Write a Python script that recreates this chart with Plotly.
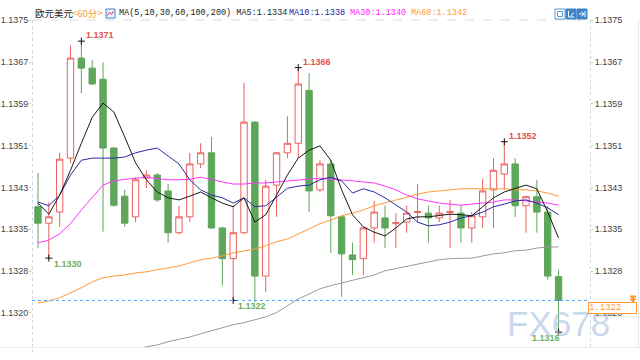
import plotly.graph_objects as go

# ---------------- data ----------------
idx = list(range(49))
opens = [1.13397, 1.13366, 1.13387, 1.13489, 1.13678, 1.13659, 1.13638, 1.13508, 1.13417, 1.13378,
         1.13451, 1.13457, 1.13427, 1.13348, 1.13378, 1.13478, 1.13499, 1.13357, 1.13299, 1.13348,
         1.13557, 1.13266, 1.13438, 1.13499, 1.13517, 1.13617, 1.13429, 1.13478, 1.13378, 1.13306,
         1.13299, 1.13357, 1.13376, 1.13365, 1.13368, 1.13386, 1.13385, 1.13376, 1.13386, 1.13385,
         1.13357, 1.13378, 1.13429, 1.13459, 1.13478, 1.13399, 1.13416, 1.13387, 1.13265]
highs = [1.13461, 1.13406, 1.13499, 1.13702, 1.13710, 1.13674, 1.13670, 1.13510, 1.13429, 1.13453,
         1.13466, 1.13461, 1.13440, 1.13399, 1.13499, 1.13517, 1.13529, 1.13359, 1.13400, 1.13631,
         1.13559, 1.13448, 1.13501, 1.13568, 1.13660, 1.13650, 1.13485, 1.13485, 1.13380, 1.13329,
         1.13359, 1.13408, 1.13399, 1.13385, 1.13399, 1.13440, 1.13399, 1.13399, 1.13410, 1.13399,
         1.13387, 1.13450, 1.13489, 1.13520, 1.13489, 1.13418, 1.13448, 1.13399, 1.13278]
lows = [1.13319, 1.13300, 1.13359, 1.13480, 1.13612, 1.13627, 1.13350, 1.13397, 1.13359, 1.13368,
        1.13432, 1.13406, 1.13329, 1.13345, 1.13368, 1.13470, 1.13355, 1.13248, 1.13220, 1.13345,
        1.13217, 1.13236, 1.13378, 1.13489, 1.13489, 1.13387, 1.13425, 1.13310, 1.13227, 1.13268,
        1.13268, 1.13329, 1.13319, 1.13319, 1.13348, 1.13368, 1.13329, 1.13368, 1.13319, 1.13329,
        1.13329, 1.13357, 1.13357, 1.13429, 1.13378, 1.13348, 1.13348, 1.13259, 1.13160]
closes = [1.13366, 1.13378, 1.13487, 1.13678, 1.13659, 1.13629, 1.13508, 1.13400, 1.13366, 1.13448,
          1.13457, 1.13410, 1.13348, 1.13378, 1.13478, 1.13499, 1.13357, 1.13299, 1.13348, 1.13557,
          1.13266, 1.13436, 1.13499, 1.13517, 1.13629, 1.13427, 1.13478, 1.13380, 1.13308, 1.13297,
          1.13357, 1.13387, 1.13357, 1.13367, 1.13385, 1.13388, 1.13376, 1.13385, 1.13388, 1.13357,
          1.13380, 1.13427, 1.13466, 1.13478, 1.13399, 1.13416, 1.13387, 1.13266, 1.13220]

ma5 = [1.13404, 1.13383, 1.13419, 1.13466, 1.13517, 1.13566, 1.13593, 1.13576, 1.13529, 1.13480,
       1.13448, 1.13425, 1.13414, 1.13410, 1.13417, 1.13425, 1.13414, 1.13404, 1.13397, 1.13414,
       1.13368, 1.13382, 1.13419, 1.13457, 1.13489, 1.13504, 1.13512, 1.13485, 1.13429, 1.13382,
       1.13359, 1.13349, 1.13342, 1.13357, 1.13374, 1.13378, 1.13378, 1.13380, 1.13383, 1.13382,
       1.13380, 1.13397, 1.13414, 1.13425, 1.13431, 1.13438, 1.13431, 1.13387, 1.13338]
ma10 = [1.13406, 1.13399, 1.13419, 1.13457, 1.13485, 1.13489, 1.13489, 1.13489, 1.13491, 1.13499,
        1.13504, 1.13508, 1.13493, 1.13478, 1.13448, 1.13429, 1.13419, 1.13414, 1.13404, 1.13414,
        1.13397, 1.13399, 1.13415, 1.13432, 1.13436, 1.13438, 1.13448, 1.13453, 1.13446, 1.13423,
        1.13431, 1.13425, 1.13414, 1.13400, 1.13387, 1.13368, 1.13361, 1.13363, 1.13368, 1.13376,
        1.13380, 1.13387, 1.13397, 1.13402, 1.13408, 1.13410, 1.13404, 1.13395, 1.13382]
ma30 = [1.13329, 1.13334, 1.13346, 1.13365, 1.13391, 1.13415, 1.13438, 1.13446, 1.13449, 1.13451,
        1.13453, 1.13451, 1.13448, 1.13448, 1.13449, 1.13453, 1.13448, 1.13444, 1.13440, 1.13440,
        1.13442, 1.13442, 1.13444, 1.13446, 1.13448, 1.13449, 1.13451, 1.13449, 1.13448, 1.13446,
        1.13444, 1.13442, 1.13436, 1.13429, 1.13419, 1.13412, 1.13408, 1.13404, 1.13402, 1.13400,
        1.13402, 1.13404, 1.13406, 1.13410, 1.13410, 1.13408, 1.13406, 1.13404, 1.13400]
ma60 = [1.13215, 1.13219, 1.13225, 1.13234, 1.13244, 1.13255, 1.13263, 1.13266, 1.13268, 1.13272,
        1.13274, 1.13278, 1.13282, 1.13285, 1.13291, 1.13297, 1.13300, 1.13304, 1.13310, 1.13314,
        1.13317, 1.13323, 1.13331, 1.13336, 1.13346, 1.13355, 1.13365, 1.13372, 1.13380, 1.13385,
        1.13391, 1.13399, 1.13404, 1.13410, 1.13415, 1.13421, 1.13425, 1.13427, 1.13429, 1.13431,
        1.13431, 1.13431, 1.13431, 1.13431, 1.13429, 1.13429, 1.13427, 1.13423, 1.13417]
ma100 = [None, None, None, None, None, None, None, None, 1.13125, 1.13129,
         1.13132, 1.13136, 1.13142, 1.13146, 1.13151, 1.13157, 1.13163, 1.13168, 1.13174, 1.13178,
         1.13183, 1.13189, 1.13197, 1.13210, 1.13223, 1.13232, 1.13242, 1.13248, 1.13253, 1.13257,
         1.13263, 1.13268, 1.13276, 1.13280, 1.13285, 1.13289, 1.13293, 1.13297, 1.13299, 1.13300,
         1.13300, 1.13304, 1.13308, 1.13310, 1.13314, 1.13315, 1.13319, 1.13321, 1.13321]

ytick_vals = [1.137495, 1.136705, 1.135915, 1.135125, 1.134335, 1.133545, 1.132755, 1.131965]
ytick_text = ["1.1375", "1.1367", "1.1359", "1.1351", "1.1343", "1.1335", "1.1328", "1.1320"]

high_marks = [4, 24, 43]
low_marks = [1, 18, 48]
last_price = 1.1322

title_name = "欧元美元"
period = "<60分>"
ma_title = "MA(5,10,30,60,100,200) MA5:1.1334"
ma_legend = ["MA10:1.1338", "MA30:1.1340", "MA60:1.1342"]
watermark = "FX678"

# ---------------- layout helpers ----------------
W, H = 640, 360
ML, MR, MT, MB = 32, 50, 20, 13
PW, PH = W - ML - MR, H - MT - MB


def px(x):
    return (x - ML) / PW


def py(y):
    return (H - MB - y) / PH


RED = "#e8605c"
GREEN = "#5ea65a"

fig = go.Figure()

fig.add_trace(go.Candlestick(
    x=idx, open=opens, high=highs, low=lows, close=closes,
    increasing=dict(line=dict(color=RED, width=1), fillcolor="white"),
    decreasing=dict(line=dict(color=GREEN, width=1), fillcolor=GREEN),
    whiskerwidth=0, hoverinfo="skip", showlegend=False,
))

for vals, col in [(ma100, "#9a9a9a"), (ma60, "#ff9933"), (ma30, "#ff33ff"),
                  (ma10, "#2b2ba0"), (ma5, "#1a1a1a")]:
    fig.add_trace(go.Scatter(x=idx, y=vals, mode="lines",
                             line=dict(color=col, width=1),
                             hoverinfo="skip", showlegend=False, connectgaps=False))

# extreme markers
mk_x = [i for i in high_marks] + [i for i in low_marks]
mk_y = [highs[i] for i in high_marks] + [lows[i] for i in low_marks]
fig.add_trace(go.Scatter(x=mk_x, y=mk_y, mode="markers",
                         marker=dict(symbol="cross-thin", size=5,
                                     line=dict(color="#111", width=1)),
                         hoverinfo="skip", showlegend=False))

# invisible trace for right axis
fig.add_trace(go.Scatter(x=[0], y=[closes[0]], yaxis="y2", mode="markers",
                         marker=dict(opacity=0), hoverinfo="skip", showlegend=False))

annotations = []
for i in high_marks:
    annotations.append(dict(x=i, y=highs[i], xref="x", yref="y", text=f"<b>{highs[i]:.4f}</b>",
                            showarrow=False, xanchor="left", yanchor="middle",
                            xshift=3, yshift=6,
                            font=dict(family="Liberation Sans, Arial", size=9, color="#e2514f")))
for i in low_marks:
    right = i == idx[-1]
    annotations.append(dict(x=i, y=lows[i], xref="x", yref="y", text=f"<b>{lows[i]:.4f}</b>",
                            showarrow=False, xanchor="right" if right else "left",
                            yanchor="middle", xshift=3, yshift=-6,
                            font=dict(family="Liberation Sans, Arial", size=9, color="#6fae5c")))

# header texts
annotations.append(dict(x=px(33), y=py(13), xref="paper", yref="paper", text=title_name,
                        showarrow=False, xanchor="left", yanchor="middle",
                        font=dict(family="Noto Sans CJK SC", size=9.5, color="#222")))
annotations.append(dict(x=px(70), y=py(13), xref="paper", yref="paper",
                        text=period.replace("<", "&lt;").replace(">", "&gt;"),
                        showarrow=False, xanchor="left", yanchor="middle",
                        font=dict(family="Noto Sans CJK SC", size=9.5, color="#f0a030")))
annotations.append(dict(x=px(117), y=py(13), xref="paper", yref="paper", text=ma_title,
                        showarrow=False, xanchor="left", yanchor="middle",
                        font=dict(family="Liberation Mono", size=8.5, color="#222")))
for txt, xl, col in zip(ma_legend, [287, 348, 409], ["#2020a8", "#ff22ff", "#ff9933"]):
    annotations.append(dict(x=px(xl), y=py(13), xref="paper", yref="paper", text=txt,
                            showarrow=False, xanchor="left", yanchor="middle",
                            font=dict(family="Liberation Mono", size=8.5, color=col)))

# watermark
annotations.append(dict(x=px(558), y=py(323), xref="paper", yref="paper", text=watermark,
                        showarrow=False, xanchor="center", yanchor="middle",
                        font=dict(family="Liberation Sans, Arial", size=35, color="rgba(170,195,225,0.65)")))

# last price label
annotations.append(dict(x=px(588), y=py(308), xref="paper", yref="paper", text=f"{last_price:.4f}",
                        showarrow=False, xanchor="left", yanchor="middle", align="left",
                        bgcolor="white", bordercolor="#ff9933", borderwidth=1, borderpad=0,
                        width=47,
                        font=dict(family="Liberation Mono", size=9, color="#ff9933")))

shapes = [
    # top dashed border
    dict(type="line", xref="paper", yref="paper", x0=px(33), x1=px(590), y0=py(20), y1=py(20),
         line=dict(color="#d8d8d8", width=1, dash="dash")),
    # left / right dotted axis lines
    dict(type="line", xref="paper", yref="paper", x0=px(32.5), x1=px(32.5), y0=py(20), y1=py(352),
         line=dict(color="#c9d6e6", width=1, dash="dot")),
    dict(type="line", xref="paper", yref="paper", x0=px(590.5), x1=px(590.5), y0=py(20), y1=py(347),
         line=dict(color="#c9d6e6", width=1, dash="dot")),
    # bottom line and far right border
    dict(type="line", xref="paper", yref="paper", x0=px(0), x1=px(640), y0=py(347.5), y1=py(347.5),
         line=dict(color="#ececec", width=1)),
    dict(type="line", xref="paper", yref="paper", x0=px(638.5), x1=px(638.5), y0=py(20), y1=py(347),
         line=dict(color="#e3e8ef", width=1)),
    # last price dashed line
    dict(type="line", xref="paper", yref="y", x0=0, x1=1, y0=last_price, y1=last_price,
         line=dict(color="#4da3ff", width=1, dash="dot"), layer="above"),
    # small orange marker above price label
    dict(type="path", xref="paper", yref="paper",
         path=f"M {px(630)},{py(296)} L {px(636)},{py(296)} L {px(633)},{py(299)} Z M {px(630)},{py(299)} L {px(636)},{py(299)} L {px(633)},{py(302)} Z",
         line=dict(color="#ff9933", width=1), fillcolor="#ff9933"),
    # MA icon
    dict(type="rect", xref="paper", yref="paper", x0=px(106), x1=px(115), y0=py(18), y1=py(9),
         line=dict(color="#4a7fd0", width=1), fillcolor="#eef3fc"),
    dict(type="path", xref="paper", yref="paper",
         path=f"M {px(107.5)},{py(15.5)} L {px(109.5)},{py(12)} L {px(111.5)},{py(14.5)} L {px(113.5)},{py(11)}",
         line=dict(color="#d04070", width=1)),
    # top-right tool icons
    dict(type="rect", xref="paper", yref="paper", x0=px(555), x1=px(565), y0=py(19), y1=py(9),
         line=dict(color="#5b9bd5", width=1), fillcolor="white"),
    dict(type="rect", xref="paper", yref="paper", x0=px(557.5), x1=px(562.5), y0=py(16.5), y1=py(11.5),
         line=dict(color="#5b9bd5", width=1), fillcolor="white"),
    dict(type="rect", xref="paper", yref="paper", x0=px(566), x1=px(576), y0=py(19), y1=py(9),
         line=dict(color="#3d85c6", width=1), fillcolor="#3d85c6"),
    dict(type="path", xref="paper", yref="paper",
         path=f"M {px(568.5)},{py(11)} L {px(568.5)},{py(17)} L {px(574)},{py(17)} M {px(571)},{py(16)} L {px(573.5)},{py(12.5)}",
         line=dict(color="white", width=1)),
    dict(type="rect", xref="paper", yref="paper", x0=px(577), x1=px(587), y0=py(19), y1=py(9),
         line=dict(color="#3d85c6", width=1), fillcolor="#3d85c6"),
    dict(type="path", xref="paper", yref="paper",
         path=f"M {px(579)},{py(14)} L {px(583)},{py(14)} M {px(581.5)},{py(11.5)} L {px(584)},{py(14)} L {px(581.5)},{py(16.5)} M {px(585)},{py(11)} L {px(585)},{py(17)}",
         line=dict(color="white", width=1)),
]

yrange = [1.13132, 1.1375]
axis_common = dict(range=yrange, tickvals=ytick_vals, ticktext=ytick_text,
                   showgrid=False, zeroline=False, showline=False,
                   ticks="outside", ticklen=2, tickcolor="#c0c8d4",
                   tickfont=dict(family="Liberation Sans, Arial", size=9, color="#444"),
                   fixedrange=True, automargin=False)

fig.update_layout(
    width=W, height=H,
    margin=dict(l=ML, r=MR, t=MT, b=MB, autoexpand=False),
    paper_bgcolor="white", plot_bgcolor="white",
    showlegend=False,
    boxgap=0.16,
    xaxis=dict(range=[-0.55, 50.9], showgrid=False, zeroline=False, showticklabels=False,
               ticks="", showline=False, rangeslider=dict(visible=False), fixedrange=True,
               automargin=False),
    yaxis=dict(side="left", ticklabelstandoff=-1, **axis_common),
    yaxis2=dict(side="right", overlaying="y", anchor="x", **axis_common),
    annotations=annotations,
    shapes=shapes,
)

fig.write_html("out.html", config={"displayModeBar": False},
               post_script="document.body.style.margin='0';document.body.style.overflow='hidden';")
